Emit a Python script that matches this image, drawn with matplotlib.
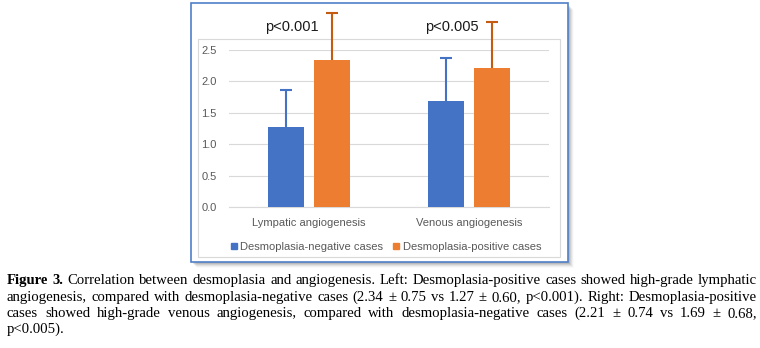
import matplotlib.pyplot as plt
import matplotlib.patches as mpatches
import numpy as np

# data
categories = ["Lympatic angiogenesis", "Venous angiogenesis"]
neg_means = [1.27, 1.69]
neg_sd = [0.60, 0.68]
pos_means = [2.34, 2.21]
pos_sd = [0.75, 0.74]
p_labels = ["p<0.001", "p<0.005"]
series_names = ["Desmoplasia-negative cases", "Desmoplasia-positive cases"]

caption_lines = [
    "Figure 3. Correlation between desmoplasia and angiogenesis. Left: Desmoplasia-positive cases showed high-grade lymphatic",
    "angiogenesis, compared with desmoplasia-negative cases (2.34 \u00b1 0.75 vs 1.27 \u00b1 0.60, p<0.001). Right: Desmoplasia-positive",
    "cases showed high-grade venous angiogenesis, compared with desmoplasia-negative cases (2.21 \u00b1 0.74 vs 1.69 \u00b1 0.68,",
    "p<0.005).",
]

BLUE = "#4472C4"
ORANGE = "#ED7D31"
ORANGE_ERR = "#C55A11"
GRAY_TXT = "#595959"

W, H = 760, 348
fig = plt.figure(figsize=(W / 100, H / 100), dpi=100)
fig.patch.set_facecolor("white")

def px_rect(x0, y0, x1, y1, **kw):
    # rectangle in pixel coords (top-left origin)
    r = mpatches.Rectangle((x0 / W, 1 - y1 / H), (x1 - x0) / W, (y1 - y0) / H,
                           transform=fig.transFigure, **kw)
    fig.patches.append(r)

# shadow of the picture frame
for i, a in enumerate([0.10, 0.08, 0.06, 0.04, 0.02]):
    px_rect(193 + i, 6 + i, 570 + i, 264 + i, facecolor="#000000", alpha=a, edgecolor="none", zorder=0)
px_rect(191, 3, 568, 262, facecolor="white", edgecolor="#4F7FC8", lw=1.2, zorder=1)
px_rect(198, 39, 560, 257, facecolor="none", edgecolor="#D9D9D9", lw=0.8, zorder=2)

ax = fig.add_axes([229 / W, 1 - 207 / H, 320 / W, 157 / H])
ax.set_facecolor("none")
ax.set_zorder(3)

x = np.arange(len(categories))
off = 0.143
bw = 0.225
# error bars sit behind the bars, so only the upper half shows
ax.errorbar(x - off, neg_means, yerr=neg_sd, fmt="none",
            ecolor=BLUE, elinewidth=1.5, capsize=4.3, capthick=1.5, zorder=2, clip_on=False)
ax.errorbar(x + off, pos_means, yerr=pos_sd, fmt="none",
            ecolor=ORANGE_ERR, elinewidth=1.5, capsize=4.3, capthick=1.5, zorder=2, clip_on=False)
ax.bar(x - off, neg_means, bw, color=BLUE, zorder=3)
ax.bar(x + off, pos_means, bw, color=ORANGE, zorder=3)

for xi, lab in zip(x, p_labels):
    ax.text(xi - 0.11, 2.87, lab, ha="center", va="center", fontsize=10.5,
            family="Liberation Sans", color="#1a1a1a", clip_on=False)

ax.set_xlim(-0.5, 1.5)
ax.set_ylim(0, 2.5)
ax.set_yticks(np.arange(0, 2.51, 0.5))
ax.set_yticklabels([f"{v:.1f}" for v in np.arange(0, 2.51, 0.5)])
ax.set_xticks(x)
ax.set_xticklabels(categories)
ax.grid(axis="y", color="#D9D9D9", lw=0.8, zorder=0)
ax.set_axisbelow(True)
for s in ax.spines.values():
    s.set_visible(False)
ax.spines["bottom"].set_visible(True)
ax.spines["bottom"].set_color("#D9D9D9")
ax.tick_params(length=0, labelsize=8, labelcolor=GRAY_TXT)
ax.tick_params(axis="y", pad=9)
ax.tick_params(axis="x", pad=8)
for t in ax.get_xticklabels() + ax.get_yticklabels():
    t.set_family("Liberation Sans")

handles = [mpatches.Patch(color=BLUE), mpatches.Patch(color=ORANGE)]
leg = fig.legend(handles, series_names, loc="center", bbox_to_anchor=(386 / W, 1 - 247 / H),
                 ncol=2, frameon=False, handlelength=0.55, handleheight=0.55,
                 handletextpad=0.3, columnspacing=0.9,
                 prop={"family": "Liberation Sans", "size": 8})
for t in leg.get_texts():
    t.set_color(GRAY_TXT)

# caption, justified like the journal layout
fig.canvas.draw()
renderer = fig.canvas.get_renderer()
left, right = 7, 757
fs = 10.6
line_y = [284, 301, 317, 333]
for li, (line, yy) in enumerate(zip(caption_lines, line_y)):
    words = line.split(" ")
    texts = []
    for wi, w in enumerate(words):
        bold = li == 0 and wi < 2
        t = fig.text(0, 1 - yy / H, w, fontsize=fs, family="Liberation Serif",
                     fontweight="bold" if bold else "normal", va="baseline", ha="left")
        texts.append(t)
    widths = [t.get_window_extent(renderer).width for t in texts]
    if li < len(caption_lines) - 1:
        gap = (right - left - sum(widths)) / (len(words) - 1)
    else:
        gap = 3
    xpos = left
    for t, wd in zip(texts, widths):
        t.set_x(xpos / W)
        xpos += wd + gap

fig.savefig("out.png", dpi=100)
